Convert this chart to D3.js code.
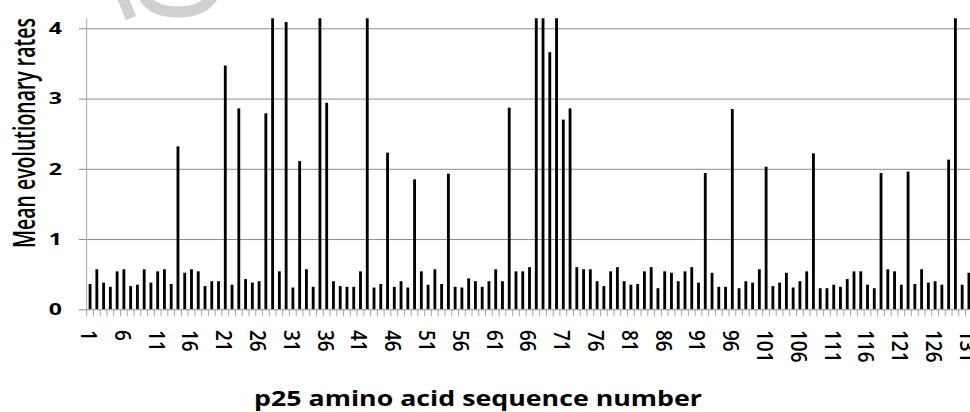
<!DOCTYPE html>
<html lang="en">
<head>
<meta charset="UTF-8">
<title>p25 mean evolutionary rates</title>
<script src="https://cdn.jsdelivr.net/npm/d3@7"></script>
<style>
  html, body { margin: 0; padding: 0; background: #fff; }
  svg { display: block; font-family: "Open Sans", sans-serif; }
</style>
</head>
<body>
<svg id="chart" width="970" height="412"></svg>
<script>
  // amino acid positions 1..131
  const positions = d3.range(1, 132);

  // mean evolutionary rate per position (bars above ~4.14 are cut off in the figure)
  const rates = [
    0.36, 0.57, 0.38, 0.32, 0.54, 0.57, 0.33, 0.35, 0.57, 0.38,
    0.54, 0.57, 0.36, 2.32, 0.52, 0.57, 0.54, 0.33, 0.40, 0.40,
    3.47, 0.35, 2.86, 0.43, 0.38, 0.40, 2.79, 4.80, 0.54, 4.09,
    0.31, 2.11, 0.57, 0.32, 4.90, 2.94, 0.40, 0.33, 0.32, 0.32,
    0.54, 5.00, 0.31, 0.36, 2.23, 0.32, 0.40, 0.31, 1.85, 0.54,
    0.35, 0.57, 0.36, 1.93, 0.32, 0.31, 0.44, 0.40, 0.32, 0.40,
    0.57, 0.40, 2.87, 0.54, 0.54, 0.60, 5.50, 4.70, 3.66, 4.60,
    2.70, 2.86, 0.60, 0.57, 0.57, 0.40, 0.33, 0.54, 0.60, 0.40,
    0.35, 0.36, 0.54, 0.60, 0.30, 0.54, 0.52, 0.40, 0.54, 0.60,
    0.38, 1.94, 0.52, 0.32, 0.32, 2.85, 0.30, 0.40, 0.38, 0.57,
    2.03, 0.33, 0.38, 0.52, 0.31, 0.40, 0.54, 2.22, 0.30, 0.30,
    0.35, 0.32, 0.43, 0.54, 0.54, 0.35, 0.30, 1.94, 0.57, 0.54,
    0.35, 1.96, 0.36, 0.57, 0.38, 0.40, 0.35, 2.13, 5.20, 0.35,
    0.52
  ];

  const yTicks = [0, 1, 2, 3, 4];
  const xTickLabels = positions.filter(p => p % 5 === 1);

  const yTitle = 'Mean evolutionary rates';
  const xTitle = 'p25 amino acid sequence number';

  // plot box (the figure is cut slightly on the right)
  const plotL = 86.7, plotR = 972.3, plotT = 18.3, plotB = 309.3;

  const svg = d3.select('#chart');

  const x = d3.scaleBand()
    .domain(positions)
    .range([plotL, plotR])
    .paddingInner(0.58)
    .paddingOuter(0.29);

  const y = d3.scaleLinear()
    .domain([0, 4])
    .range([plotB, 28.3]);

  // faint watermark piece at the top
  const wm = svg.append('g').attr('fill', 'none').attr('stroke', '#d0d0d0').attr('stroke-width', 11);
  wm.append('path').attr('d', 'M122,-4 L131,18');
  wm.append('path').attr('d', 'M143,-6 Q150,12 178,12 Q205,12 214,-6');

  // gridlines + left tick marks
  svg.append('g')
    .selectAll('line')
    .data(yTicks)
    .join('line')
      .attr('x1', plotL - 8)
      .attr('x2', plotR)
      .attr('y1', d => y(d) + 0.5)
      .attr('y2', d => y(d) + 0.5)
      .attr('stroke', '#8c8c8c')
      .attr('stroke-width', 1);

  // y axis line
  svg.append('line')
    .attr('x1', plotL).attr('x2', plotL)
    .attr('y1', plotT).attr('y2', plotB)
    .attr('stroke', '#a8a8a8');

  // x tick marks at category boundaries
  const step = x.step();
  const bounds = positions.map(p => x(p) - step * x.paddingInner() / 2);
  bounds.push(bounds[bounds.length - 1] + step);
  svg.append('g')
    .selectAll('line')
    .data(bounds)
    .join('line')
      .attr('x1', d => d).attr('x2', d => d)
      .attr('y1', plotB).attr('y2', plotB + 7)
      .attr('stroke', '#a8a8a8');

  // bars, clipped at the top of the plot
  svg.append('clipPath').attr('id', 'plotClip')
    .append('rect')
      .attr('x', plotL).attr('y', plotT)
      .attr('width', plotR - plotL).attr('height', plotB - plotT);

  svg.append('g')
    .attr('clip-path', 'url(#plotClip)')
    .selectAll('rect')
    .data(positions)
    .join('rect')
      .attr('x', d => x(d))
      .attr('y', (d, i) => y(rates[i]))
      .attr('width', x.bandwidth())
      .attr('height', (d, i) => y(0) - y(rates[i]))
      .attr('fill', '#000');

  // y tick labels
  svg.append('g')
    .selectAll('text')
    .data(yTicks)
    .join('text')
      .attr('transform', d => `translate(62,${y(d)}) scale(1.4,1)`)
      .attr('text-anchor', 'end')
      .attr('dy', '0.36em')
      .attr('font-size', 16.5)
      .attr('font-weight', 700)
      .attr('fill', '#000')
      .text(d => d);

  // x tick labels, turned to read downwards
  svg.append('g')
    .selectAll('text')
    .data(xTickLabels)
    .join('text')
      .attr('transform', d => `translate(${x(d) + x.bandwidth() / 2 - 1.5},330) scale(1.12,1) rotate(90)`)
      .attr('text-anchor', 'start')
      .attr('dy', '0.36em')
      .attr('font-size', 19)
      .attr('font-weight', 600)
      .attr('fill', '#000')
      .text(d => d);

  // y title
  const yt = svg.append('text')
    .attr('text-anchor', 'middle')
    .attr('dy', '0.35em')
    .attr('font-size', 21)
    .attr('font-weight', 600)
    .attr('fill', '#000')
    .text(yTitle);
  const ys = 230 / yt.node().getComputedTextLength();
  yt.attr('transform', `translate(24,133) scale(1.5,${ys}) rotate(-90)`);

  // x title
  const xt = svg.append('text')
    .attr('text-anchor', 'middle')
    .attr('font-size', 21)
    .attr('font-weight', 700)
    .attr('fill', '#000')
    .text(xTitle);
  const xs = 448 / xt.node().getComputedTextLength();
  xt.attr('transform', `translate(478,406) scale(${xs},1)`);
</script>
</body>
</html>
